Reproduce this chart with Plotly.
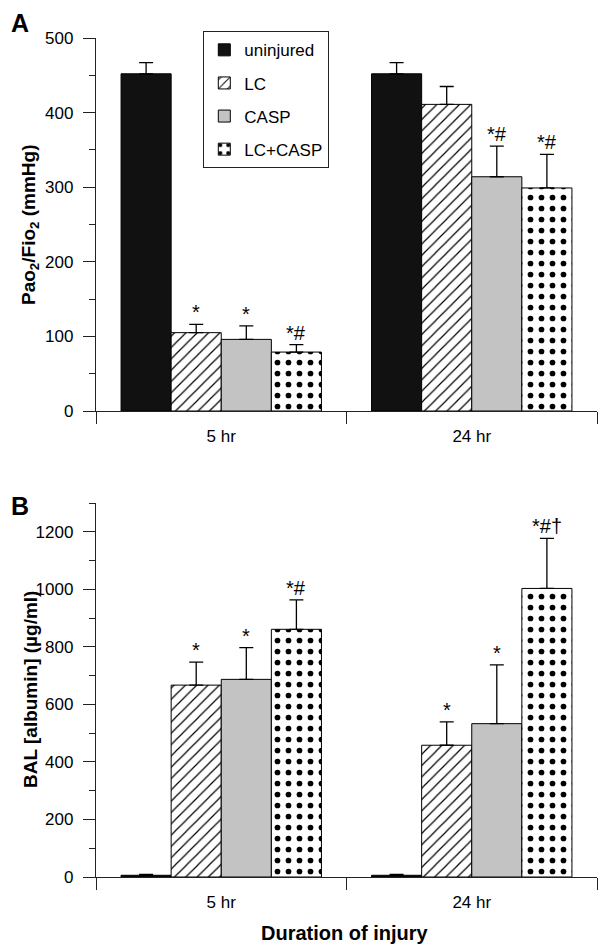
import plotly.graph_objects as go

# ---------------- data ----------------
times = ["5 hr", "24 hr"]
series = ["uninjured", "LC", "CASP", "LC+CASP"]

pao2_mean = [[452, 452], [105, 411], [96, 314], [79, 299]]
pao2_err = [[15, 15], [11, 24], [18, 41], [10, 45]]
pao2_marks = [["", ""], ["*", ""], ["*", "*#"], ["*#", "*#"]]

alb_mean = [[6, 6], [667, 458], [687, 533], [861, 1003]]
alb_err = [[3, 3], [80, 81], [110, 204], [102, 174]]
alb_marks = [["", ""], ["*", "*"], ["*", "*"], ["*#", "*#†"]]

# ---------------- styles ----------------
FONT = "Liberation Sans, Arial, Helvetica, sans-serif"
styles = [
    dict(color="#111111", pattern=dict(shape="")),
    dict(color="white", pattern=dict(shape="/", fgcolor="black", bgcolor="white",
                                     size=8, solidity=0.15, fillmode="replace")),
    dict(color="#c3c3c3", pattern=dict(shape="")),
    dict(color="white", pattern=dict(shape=".", fgcolor="black", bgcolor="white",
                                     size=11, solidity=0.21, fillmode="replace")),
]

# pixel geometry helpers (figure 600 x 948)
L, R, T, B = 96, 3, 38, 71
PW, PH = 600 - L - R, 948 - T - B


def px_x(p):
    return (p - L) / PW


def px_y(p):
    return (948 - B - p) / PH


fig = go.Figure()

panels = [
    ("x", "y", pao2_mean, pao2_err, pao2_marks, True),
    ("x2", "y2", alb_mean, alb_err, alb_marks, False),
]

n = len(series)
offsets = [(-0.4 + 0.8 * (k + 0.5) / n) for k in range(n)]

annotations = []
for xa, ya, means, errs, marks, show in panels:
    for k, name in enumerate(series):
        st = styles[k]
        fig.add_trace(go.Bar(
            x=times, y=means[k], name=name, xaxis=xa, yaxis=ya,
            showlegend=show, legendgroup=name,
            marker=dict(color=st["color"], pattern=st["pattern"],
                        line=dict(color="black", width=1)),
            error_y=dict(type="data", symmetric=False, array=errs[k],
                         arrayminus=[0] * len(times), color="black",
                         thickness=1.3, width=7),
        ))
        for i in range(len(times)):
            if marks[k][i]:
                annotations.append(dict(
                    x=i + offsets[k], y=means[k][i] + errs[k][i],
                    xref=xa, yref=ya, text=marks[k][i], showarrow=False,
                    yanchor="bottom", yshift=-1,
                    font=dict(family=FONT, size=20, color="black")))

# panel letters / titles
annotations += [
    dict(text="<b>A</b>", x=px_x(9), y=px_y(7), xref="paper", yref="paper",
         xanchor="left", yanchor="top", showarrow=False,
         font=dict(family=FONT, size=25, color="black")),
    dict(text="<b>B</b>", x=px_x(9), y=px_y(490), xref="paper", yref="paper",
         xanchor="left", yanchor="top", showarrow=False,
         font=dict(family=FONT, size=25, color="black")),
    dict(text="<b>Pao<sub>2</sub>/Fio<sub>2</sub> (mmHg)</b>", x=px_x(30), y=px_y(225),
         xref="paper", yref="paper", textangle=-90, showarrow=False,
         xanchor="center", yanchor="middle",
         font=dict(family=FONT, size=19, color="black")),
    dict(text="<b>BAL [albumin] (µg/ml)</b>", x=px_x(30), y=px_y(690),
         xref="paper", yref="paper", textangle=-90, showarrow=False,
         xanchor="center", yanchor="middle",
         font=dict(family=FONT, size=19, color="black")),
    dict(text="<b>Duration of injury</b>", x=px_x(345), y=px_y(933), xref="paper", yref="paper",
         xanchor="center", yanchor="middle", showarrow=False,
         font=dict(family=FONT, size=20, color="black")),
]

axis_common = dict(showline=True, linecolor="#222", linewidth=1.3, ticks="outside",
                   tickcolor="#222", tickwidth=1.3, showgrid=False, zeroline=False,
                   tickfont=dict(family=FONT, size=17, color="black"))

xaxis_common = dict(axis_common, type="category", tickson="boundaries", ticklen=12,
                    range=[-0.5, 1.5], ticklabelstandoff=9)

fig.update_layout(
    width=600, height=948,
    margin=dict(l=L, r=R, t=T, b=B),
    paper_bgcolor="white", plot_bgcolor="white",
    barmode="group", bargap=0.2, bargroupgap=0,
    font=dict(family=FONT, color="black"),
    xaxis=dict(xaxis_common, domain=[0, 1], anchor="y"),
    yaxis=dict(axis_common, domain=[px_y(411), 1.0], anchor="x", range=[0, 500],
               dtick=100, ticklen=12, ticklabelstandoff=6,
               minor=dict(ticks="outside", ticklen=6, dtick=50, tickcolor="#222", tickwidth=1.3)),
    xaxis2=dict(xaxis_common, domain=[0, 1], anchor="y2"),
    yaxis2=dict(axis_common, domain=[0, px_y(503)], anchor="x2", range=[0, 1300],
                dtick=200, ticklen=12, ticklabelstandoff=6,
                minor=dict(ticks="outside", ticklen=6, dtick=100, tickcolor="#222", tickwidth=1.3)),
    legend=dict(x=px_x(203), y=px_y(31), xanchor="left", yanchor="top",
                bordercolor="#222", borderwidth=1.3, bgcolor="white",
                traceorder="grouped", tracegroupgap=8,
                font=dict(family=FONT, size=17, color="black")),
    annotations=annotations,
)

fig.write_html("out.html", config={"displayModeBar": False},
               post_script="document.body.style.margin='0';document.body.style.overflow='hidden';")
